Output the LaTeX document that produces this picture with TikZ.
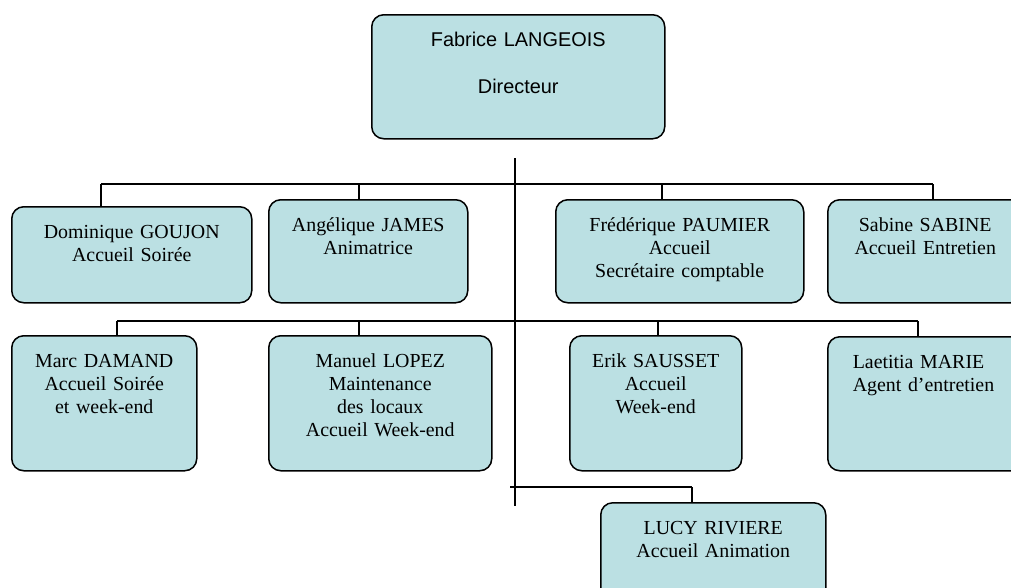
\documentclass[tikz,border=0pt]{standalone}
\usepackage{fontspec}
\setmainfont{Liberation Serif}
\newfontfamily\arialfont{Liberation Sans}
\definecolor{boxfill}{RGB}{187,224,227}
\begin{document}
\begin{tikzpicture}[x=1pt,y=-1pt,
  box/.style 2 args={draw=black, line width=1.5pt, fill=boxfill, rounded corners=12pt,
    anchor=north west, inner sep=0pt, align=center, text width=#1pt,
    text height=32pt, text depth=#2pt, font=\fontsize{19.9}{23}\selectfont},
  bus/.style={draw=black, line width=1.4pt}]
\useasboundingbox (0,0) rectangle (1011,587);
\clip (0,0) rectangle (1011,587);
% boxes
\node[box={293}{92}, font=\arialfont\fontsize{19.9}{23.5}\selectfont] (dir) at (371,14) {Fabrice LANGEOIS\\[23.5pt]Directeur};
\node[box={240}{64}] (dom) at (11,206) {Dominique GOUJON\\Accueil Soirée};
\node[box={199}{71}] (ang) at (268,199) {Angélique JAMES\\Animatrice};
\node[box={248}{71}] (fre) at (555,199) {Frédérique PAUMIER\\Accueil\\Secrétaire comptable};
\node[box={195}{71}] (sab) at (827,199) {Sabine SABINE\\Accueil Entretien};
\node[box={185}{103}] (mar) at (11,335) {Marc DAMAND\\Accueil Soirée\\et week-end};
\node[box={223}{103}] (man) at (268,335) {Manuel LOPEZ\\Maintenance\\des locaux\\Accueil Week-end};
\node[box={172}{103}] (eri) at (569,335) {Erik SAUSSET\\Accueil\\Week-end};
\node[box={170}{102}, align=left, inner xsep=25pt] (lae) at (827,336) {Laetitia MARIE\\Agent d’entretien};
\node[box={225}{70}] (luc) at (600,502) {LUCY RIVIERE\\Accueil Animation};
% connectors
\coordinate (vtop) at (515,158);
\coordinate (vbot) at (515,506);
\coordinate (b1l) at (101,184);
\coordinate (b1b) at (359,184);
\coordinate (b1c) at (662,184);
\coordinate (b1r) at (933,184);
\coordinate (b2l) at (117,321);
\coordinate (b2b) at (359,321);
\coordinate (b2c) at (658,321);
\coordinate (b2r) at (918,321);
\coordinate (b3l) at (510,487);
\coordinate (b3r) at (692,487);
\path[bus] (vtop) -- (vbot);
\path[bus] (b1l) -- (b1r);
\path[bus] (b1l) -- (b1l |- dom.north);
\path[bus] (b1b) -- (b1b |- ang.north);
\path[bus] (b1c) -- (b1c |- fre.north);
\path[bus] (b1r) -- (b1r |- sab.north);
\path[bus] (b2l) -- (b2r);
\path[bus] (b2l) -- (b2l |- mar.north);
\path[bus] (b2b) -- (b2b |- man.north);
\path[bus] (b2c) -- (b2c |- eri.north);
\path[bus] (b2r) -- (b2r |- lae.north);
\path[bus] (b3l) -- (b3r);
\path[bus] (b3r) -- (b3r |- luc.north);
\end{tikzpicture}
\end{document}
